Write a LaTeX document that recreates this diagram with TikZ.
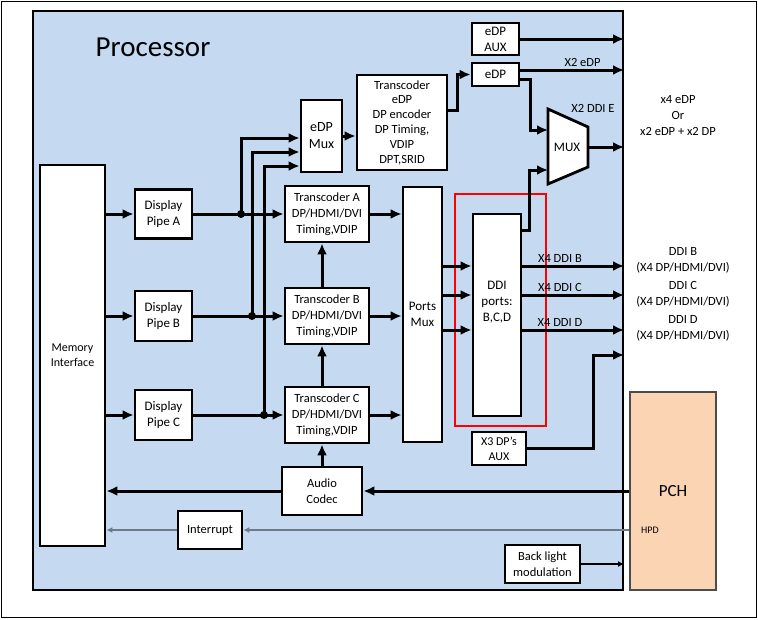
\documentclass[tikz,border=0pt]{standalone}
\usepackage{fontspec}
\setmainfont{Carlito}
\usetikzlibrary{arrows.meta, positioning, calc}

\definecolor{procblue}{HTML}{C5D9F1}
\definecolor{pchorange}{HTML}{FBD4B4}
\definecolor{hpdgray}{HTML}{6C7A89}

\begin{document}
\begin{tikzpicture}[
  x=1pt, y=-1pt,
  block/.style = {draw, line width=2.8pt, fill=white, align=center, inner sep=0pt,
                  font=\fontsize{12.5}{16}\selectfont},
  arrow/.style = {line width=3pt, -{Latex[length=11pt,width=10pt]}},
  thinarrow/.style = {line width=1.3pt, -{Latex[length=6pt,width=6pt]}},
  lbl/.style = {font=\fontsize{12.5}{16}\selectfont, align=center, inner sep=2pt},
  dot/.style = {circle, fill, inner sep=0pt, minimum size=8pt}
]
  \useasboundingbox (0,0) rectangle (758,619);
  \draw[line width=1pt] (1.5,1.5) rectangle (756.5,617.5);

  % processor and PCH
  \node[draw, line width=2pt, fill=procblue, minimum width=590pt, minimum height=579pt] (proc) at (328,300.5) {};
  \node[font=\fontsize{29}{32}\selectfont] (proclbl) at (153,47) {Processor};
  \node[draw=black!70, line width=1.2pt, fill=pchorange, minimum width=86pt, minimum height=198pt,
        font=\fontsize{17}{20}\selectfont] (pch) at (673,491) {PCH};
  \node[font=\fontsize{10}{12}\selectfont] (hpd) at (650,530) {HPD};

  % memory and display pipes
  \node[block, minimum width=65pt, minimum height=381pt, font=\fontsize{12}{15}\selectfont] (mem) at (72.5,355.5) {Memory\\Interface};
  \node[block, minimum width=57pt, minimum height=49pt, font=\fontsize{13}{16}\selectfont] (pipeA) at (163.5,214) {Display\\Pipe A};
  \node[block, minimum width=57pt, minimum height=50pt, font=\fontsize{13}{16}\selectfont] (pipeB) at (163.5,316) {Display\\Pipe B};
  \node[block, minimum width=57pt, minimum height=50pt, font=\fontsize{13}{16}\selectfont] (pipeC) at (163.5,415) {Display\\Pipe C};

  % transcoders
  \node[block, minimum width=84pt, minimum height=56pt] (trA) at (327,214) {Transcoder A\\DP/HDMI/DVI\\Timing,VDIP};
  \node[block, minimum width=84pt, minimum height=56pt] (trB) at (327,316) {Transcoder B\\DP/HDMI/DVI\\Timing,VDIP};
  \node[block, minimum width=84pt, minimum height=56pt] (trC) at (327,415) {Transcoder C\\DP/HDMI/DVI\\Timing,VDIP};
  \node[block, minimum width=41pt, minimum height=72pt, font=\fontsize{14}{17}\selectfont] (edpmux) at (321.5,136) {eDP\\Mux};
  \node[block, minimum width=90pt, minimum height=95pt, font=\fontsize{12.5}{14.8}\selectfont] (tredp) at (402,122.5)
    {Transcoder\\eDP\\DP encoder\\DP Timing,\\VDIP\\DPT,SRID};

  % eDP outputs
  \node[block, minimum width=47pt, minimum height=32pt, font=\fontsize{13}{16}\selectfont] (edpaux) at (495.5,39) {eDP\\AUX};
  \node[block, minimum width=47pt, minimum height=23pt, font=\fontsize{13}{16}\selectfont] (edp) at (495.5,74.5) {eDP};
  \draw[line width=2.8pt, fill=white] (548,109) -- (588,127) -- (588,167) -- (548,184) -- cycle;
  \node[font=\fontsize{13}{16}\selectfont] (mux) at (567,147) {MUX};
  \coordinate (muxinA) at (548,130);
  \coordinate (muxinB) at (548,170);
  \coordinate (muxout) at (588,147);

  % ports
  \node[block, minimum width=39pt, minimum height=255pt, font=\fontsize{13}{16}\selectfont] (pmux) at (422.5,314.5) {Ports\\Mux};
  \node[draw=red, line width=1.5pt, minimum width=91pt, minimum height=232pt] (ddigroup) at (500.5,310) {};
  \node[block, minimum width=48pt, minimum height=202pt, font=\fontsize{13}{16}\selectfont] (ddi) at (497,315) {DDI\\ports:\\B,C,D\\[12pt]};
  \node[block, minimum width=54pt, minimum height=33pt, font=\fontsize{12}{15}\selectfont] (x3aux) at (499,448.5) {X3 DP’s\\AUX};

  % bottom blocks
  \node[block, minimum width=80pt, minimum height=48pt] (audio) at (322,491) {Audio\\Codec};
  \node[block, minimum width=64pt, minimum height=38pt] (intr) at (210,530) {Interrupt};
  \node[block, minimum width=75pt, minimum height=38pt] (backlight) at (542.5,564) {Back light\\modulation};

  % outside labels
  \node[lbl] (edpout) at (678,116) {x4 eDP\\Or\\x2 eDP + x2 DP};
  \node[lbl] (ddiBout) at (683,260) {DDI B\\(X4 DP/HDMI/DVI)};
  \node[lbl] (ddiCout) at (683,294.5) {DDI C\\(X4 DP/HDMI/DVI)};
  \node[lbl] (ddiDout) at (683,328.5) {DDI D\\(X4 DP/HDMI/DVI)};

  % memory to pipes to transcoders
  \foreach \p in {A,B,C} {
    \draw[arrow] (mem.east |- pipe\p) -- (pipe\p.west);
    \draw[arrow] (pipe\p.east) -- (tr\p.west);
    \draw[arrow] (tr\p.east) -- (tr\p.east -| pmux.west);
  }
  \node[dot] (jA) at (241,214) {};
  \node[dot] (jB) at (252,316) {};
  \node[dot] (jC) at (264,415) {};
  \draw[arrow] (jA.center) |- (edpmux.west |- 0,138);
  \draw[arrow] (jB.center) |- (edpmux.west |- 0,152);
  \draw[arrow] (jC.center) |- (edpmux.west |- 0,166);

  % transcoder chain
  \draw[arrow] (audio.north) -- (audio.north |- trC.south);
  \draw[arrow] (audio |- trC.north) -- (audio |- trB.south);
  \draw[arrow] (audio |- trB.north) -- (audio |- trA.south);

  % eDP path
  \draw[arrow] (edpmux.east) -- (edpmux.east -| tredp.west);
  \draw[arrow] (tredp.east |- 0,110) -- (457,110) |- (edp.west);
  \draw[arrow] (edpaux.east) -- (edpaux.east -| proc.east);
  \draw[arrow] (edp.east |- 0,70) -- node[lbl, above, pos=0.6] {X2 eDP} (proc.east |- 0,70);
  \draw[arrow] (edp.east |- 0,79) -- (530,79) |- (muxinA);
  \draw[arrow] (ddi.east |- 0,230) -- (529,230) |- (muxinB);
  \draw[arrow] (muxout) -- (muxout -| proc.east);
  \node[lbl] (ddielbl) at (593,108) {X2 DDI E};

  % DDI ports
  \foreach \y/\l in {266/B, 295/C, 330/D} {
    \draw[arrow] (pmux.east |- 0,\y) -- (ddi.west |- 0,\y);
    \draw[arrow] (ddi.east |- 0,\y) -- node[lbl, above, pos=0.37] {X4 DDI \l} (proc.east |- 0,\y);
  }
  \draw[arrow] (x3aux.east) -| (593,355) -- (proc.east |- 0,355);

  % audio, hpd and back light
  \draw[arrow] (pch.west |- audio) -- (audio.east);
  \draw[arrow] (audio.west) -- (audio.west -| mem.east);
  \draw[thinarrow, hpdgray] (pch.west |- hpd) -- (intr.east);
  \draw[thinarrow, hpdgray] (intr.west) -- (intr.west -| mem.east);
  \draw[thinarrow] (backlight.east) -- (backlight.east -| proc.east);

\end{tikzpicture}
\end{document}
